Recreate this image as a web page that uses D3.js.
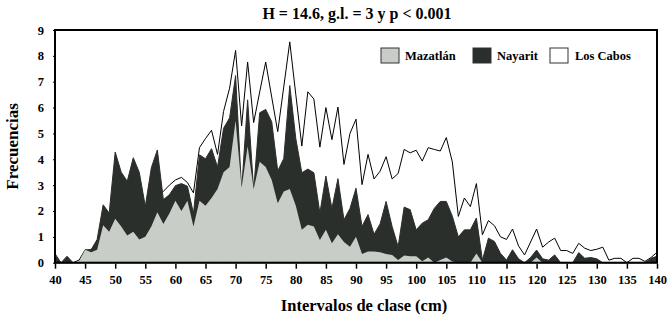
<!DOCTYPE html>
<html>
<head>
<meta charset="utf-8">
<script src="https://cdn.jsdelivr.net/npm/d3@7"></script>
<style>
    body { margin: 0; background: #fff; }
    text { font-family: "Liberation Serif", "Times New Roman", serif; font-weight: bold; }
</style>
</head>
<body>
<div id="container"></div>
<script>
// class intervals, cm (one point per cm)
const intervalos = d3.range(40, 141);

const xTicks = [40, 45, 50, 55, 60, 65, 70, 75, 80, 85, 90, 95, 100, 105, 110, 115, 120, 125, 130, 135, 140];
const yTicks = [0, 1, 2, 3, 4, 5, 6, 7, 8, 9];

const series = ['Los Cabos', 'Nayarit', 'Mazatlán'];

// 40 .. 140
const losCabos = [
    0, 0, 0, 0, 0.1, 0.5, 0.5, 0.8, 1.2, 1.4,
    1.6, 1.7, 1.8, 1.9, 2.0, 2.1, 2.3, 2.5, 2.76, 3.0,
    3.2, 3.3, 3.1, 2.7, 4.45, 4.8, 5.12, 4.19, 5.85, 6.75,
    8.21, 5.29, 7.76, 5.42, 6.6, 7.76, 6.4, 5.07, 6.8, 8.54,
    6.5, 4.51, 6.61, 6.33, 4.47, 6.0, 4.76, 6.02, 3.8, 5.0,
    5.55, 3.02, 4.19, 3.24, 3.54, 4.1, 3.24, 3.45, 4.38, 4.25,
    4.35, 3.93, 4.45, 4.38, 4.32, 4.84, 3.9, 1.79, 2.5, 2.17,
    3.06, 1.08, 1.63, 1.43, 1.0, 0.9, 1.3, 0.65, 0.3, 0.8,
    1.3, 0.6, 0.8, 0.95, 0.47, 0.47, 0.36, 0.75, 0.56, 0.47,
    0.52, 0.6, 0.1, 0.17, 0.17, 0, 0.17, 0.17, 0.05, 0.2,
    0.4
];

const nayarit = [
    0.35, 0, 0.25, 0, 0, 0.45, 0.5, 0.9, 2.24, 1.92,
    4.28, 3.5, 3.15, 4.06, 3.5, 2.18, 3.67, 4.36, 2.44, 2.63,
    2.98, 3.06, 2.96, 1.9, 4.17, 4.02, 4.41, 3.7, 5.2, 5.6,
    7.24, 2.8, 6.3, 2.8, 5.8, 5.93, 5.45, 3.55, 4.03, 6.85,
    4.8, 3.48, 3.62, 3.48, 1.92, 3.35, 2.1, 3.25, 1.66, 2.1,
    2.88, 1.4, 1.86, 1.1, 1.5, 2.37, 1.4, 0.62, 2.15, 2.05,
    1.27, 1.53, 1.66, 2.1, 2.37, 2.37, 1.8, 1.0, 1.27, 1.27,
    1.73, 0.1, 0.95, 0.82, 0.36, 0.1, 0.5, 0.15, 0, 0.2,
    0.49, 0.15, 0.1, 0.3, 0, 0, 0, 0.39, 0.17, 0.2,
    0.15, 0, 0, 0, 0, 0, 0, 0, 0, 0.17,
    0.25
];

const mazatlan = [
    0, 0, 0, 0, 0.05, 0.5, 0.4, 0.5, 1.45, 1.2,
    1.7, 1.4, 1.05, 1.2, 0.9, 1.0, 1.4, 1.95, 1.5, 1.9,
    2.4, 2.0, 2.4, 1.4, 2.4, 2.2, 2.5, 2.85, 3.5, 3.7,
    5.5, 2.9, 4.5, 2.85, 3.9, 3.7, 3.2, 2.3, 2.75, 2.85,
    2.2, 1.27, 1.47, 1.4, 0.88, 1.27, 0.75, 1.1, 0.8, 0.62,
    1.0, 0.34, 0.43, 0.43, 0.4, 0.34, 0.3, 0.1, 0.28, 0.25,
    0.25, 0.06, 0.2, 0, 0.1, 0.2, 0.05, 0, 0, 0,
    0.36, 0, 0, 0, 0, 0, 0, 0, 0, 0,
    0.2, 0, 0, 0, 0, 0, 0, 0, 0, 0,
    0, 0, 0, 0, 0, 0, 0, 0, 0, 0,
    0
];

const valores = [losCabos, nayarit, mazatlan];
const fills = ['#ffffff', '#2b2f2c', '#c9cdc7'];
const strokes = ['#000000', '#2b2f2c', 'none'];

const width = 670, height = 320;
const plotLeft = 55, plotRight = 657, plotTop = 30, plotBottom = 262.7;

const svg = d3.select("#container")
    .append('svg')
    .attr('width', width)
    .attr('height', height);

const xScale = d3.scaleLinear().domain([40, 140]).range([plotLeft, plotRight]);
const yScale = d3.scaleLinear().domain([0, 9]).range([plotBottom, plotTop]);

const areaMaker = d3.area()
    .x((d) => xScale(d.cm))
    .y0(yScale(0))
    .y1((d) => yScale(d.v));

// back to front: Los Cabos, Nayarit, Mazatlán
valores.forEach((vals, i) => {
    const pts = intervalos.map((cm, j) => ({ cm: cm, v: vals[j] }));
    svg.append('path')
        .datum(pts)
        .attr('d', areaMaker)
        .attr('fill', fills[i])
        .attr('stroke', strokes[i])
        .attr('stroke-width', 1)
        .attr('stroke-linejoin', 'miter');
});

// frame
svg.append('rect')
    .attr('x', plotLeft)
    .attr('y', plotTop)
    .attr('width', plotRight - plotLeft)
    .attr('height', plotBottom - plotTop)
    .attr('fill', 'none')
    .attr('stroke', '#000')
    .attr('stroke-width', 2);

const xAxis = d3.axisBottom(xScale).tickValues(xTicks).tickSize(5).tickPadding(6);
const xAxisGroup = svg.append('g')
    .attr('transform', 'translate(0,' + (plotBottom + 1) + ')')
    .call(xAxis);
xAxisGroup.select('.domain').remove();
xAxisGroup.selectAll('line').attr('stroke-width', 1.5);
xAxisGroup.selectAll('text').attr('font-size', 12.5).attr('fill', '#000');

const yAxis = d3.axisLeft(yScale).tickValues(yTicks).tickSize(3).tickPadding(9);
const yAxisGroup = svg.append('g')
    .attr('transform', 'translate(' + (plotLeft + 1) + ',0)')
    .call(yAxis);
yAxisGroup.select('.domain').remove();
yAxisGroup.selectAll('text').attr('font-size', 12.5).attr('fill', '#000');

// titles
svg.append('text')
    .attr('x', 357)
    .attr('y', 19)
    .attr('text-anchor', 'middle')
    .attr('font-size', 16)
    .text('H = 14.6, g.l. = 3 y p < 0.001');

svg.append('text')
    .attr('x', 364)
    .attr('y', 311)
    .attr('text-anchor', 'middle')
    .attr('font-size', 16.5)
    .text('Intervalos de clase (cm)');

svg.append('text')
    .attr('transform', 'translate(18,' + ((plotTop + plotBottom) / 2) + ') rotate(-90)')
    .attr('text-anchor', 'middle')
    .attr('font-size', 17)
    .text('Frecuencias');

// legend
const legendX = [381, 473, 550];
const legendOrder = [2, 1, 0];
legendOrder.forEach((idx, k) => {
    const g = svg.append('g').attr('transform', 'translate(' + legendX[k] + ',48)');
    g.append('rect')
        .attr('width', 18)
        .attr('height', 15)
        .attr('fill', fills[idx])
        .attr('stroke', '#333')
        .attr('stroke-width', 1);
    g.append('text')
        .attr('x', k === 2 ? 25 : 24)
        .attr('y', 12)
        .attr('font-size', 12.5)
        .text(series[idx]);
});
</script>
</body>
</html>
